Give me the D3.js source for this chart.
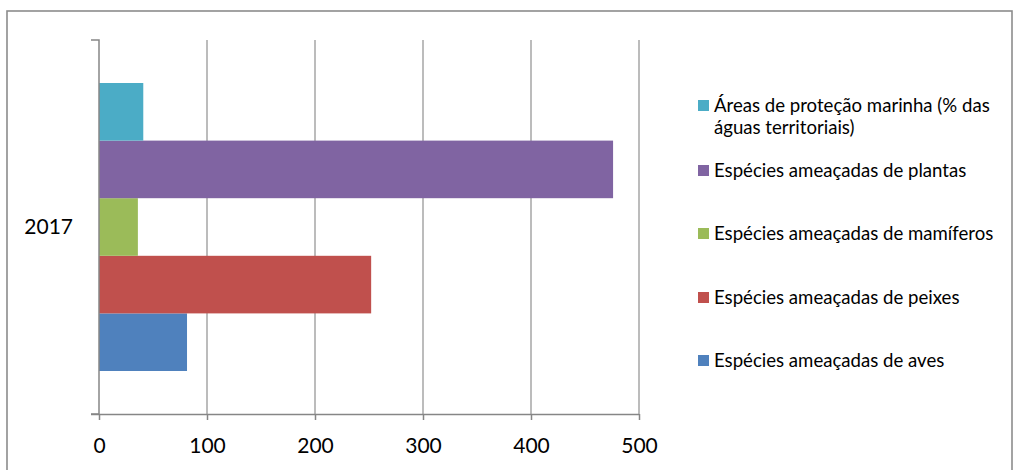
<!DOCTYPE html>
<html><head><meta charset="utf-8">
<script src="https://cdn.jsdelivr.net/npm/d3@7/dist/d3.min.js"></script>
<style>body{margin:0;background:#fff}svg{display:block;font-family:Lato,"Open Sans",sans-serif}</style>
</head><body><svg id="c" width="1016" height="470"></svg>
<script>
const categories = ["2017"];
const seriesNames = ["Espécies ameaçadas de aves","Espécies ameaçadas de peixes","Espécies ameaçadas de mamíferos","Espécies ameaçadas de plantas","Áreas de proteção marinha (% das águas territoriais)"];
const seriesValues = [81.5, 252, 36, 476, 41];
const seriesColors = ["#4F81BD","#C0504D","#9BBB59","#8064A2","#4BACC6"];
const xTicks = [0,100,200,300,400,500];

const svg = d3.select("#c");
svg.append("rect").attr("x",7).attr("y",11).attr("width",1005).attr("height",470)
  .attr("fill","none").attr("stroke","#8c8c8c").attr("stroke-width",1.6);

const L=99,R=639,T=40,B=414;
const x = d3.scaleLinear().domain([0,500]).range([L,R]);
const y = d3.scaleBand().domain(categories).range([B,T]).paddingInner(0).paddingOuter(0);
const seriesIdx = d3.range(seriesNames.length);
const groupPad = 43;
const ys = d3.scaleBand().domain(seriesIdx).range([y.bandwidth()-groupPad, groupPad]);

// gridlines
svg.append("g").selectAll("line").data(xTicks.slice(1)).join("line")
  .attr("x1",d=>x(d)).attr("x2",d=>x(d)).attr("y1",T).attr("y2",B)
  .attr("stroke","#a6a6a6").attr("stroke-width",1.5);

// bars
categories.forEach(cat=>{
  svg.append("g").selectAll("rect").data(seriesIdx).join("rect")
    .attr("x",x(0)).attr("y",i=>y(cat)+ys(i)).attr("height",ys.bandwidth())
    .attr("width",i=>x(seriesValues[i])-x(0)).attr("fill",i=>seriesColors[i]);
});

// x axis
const xa = svg.append("g").attr("transform",`translate(0,${B})`)
  .call(d3.axisBottom(x).tickValues(xTicks).tickSize(6).tickPadding(18));
xa.select(".domain").attr("d",`M${L-8},0.5H${R}`).attr("stroke","#868686").attr("stroke-width",1.5);
xa.selectAll(".tick line").attr("stroke","#868686").attr("stroke-width",1.5);
xa.selectAll("text").attr("font-size",21).attr("fill","#000").attr("font-family","Lato");

// y axis
const ya = svg.append("g").attr("transform",`translate(${L},0)`)
  .call(d3.axisLeft(y).tickSize(0).tickPadding(26));
ya.select(".domain").attr("d",`M-8,${T}H0V${B}H-8`).attr("stroke","#868686").attr("stroke-width",1.5).attr("fill","none");
ya.selectAll("text").attr("font-size",21).attr("fill","#000").attr("font-family","Lato");

// legend
const legendY = [105,170,233,297,360];
const order = [4,3,2,1,0];
const lg = svg.append("g");
order.forEach((si,k)=>{
  const cy = legendY[k];
  lg.append("rect").attr("x",698).attr("y",cy-5).attr("width",11).attr("height",11).attr("fill",seriesColors[si]);
  const name = seriesNames[si];
  const t = lg.append("text").attr("x",714).attr("font-size",18.6).attr("fill","#000").attr("font-family","Lato");
  if(si===4){
    t.append("tspan").attr("x",714).attr("y",cy).attr("dy","0.35em").text("Áreas de proteção marinha (% das");
    t.append("tspan").attr("x",714).attr("y",cy+22).attr("dy","0.35em").text("águas territoriais)");
  } else {
    t.attr("y",cy).attr("dy","0.35em").text(name);
  }
});
</script></body></html>
